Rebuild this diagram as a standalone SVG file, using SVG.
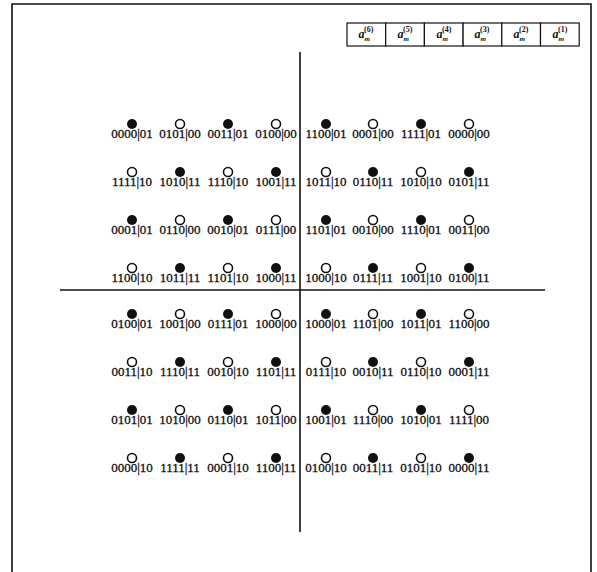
<svg xmlns="http://www.w3.org/2000/svg" width="597" height="572" viewBox="0 0 597 572">
<style>
.lbl{font-family:"Liberation Serif","DejaVu Serif",serif;font-size:13px;fill:#111;stroke:#111;stroke-width:0.3;text-anchor:middle}
.f{fill:#111}
.o{fill:#fff;stroke:#111;stroke-width:1.6}
.ax{stroke:#111;stroke-width:1.6;fill:none}
.box{fill:#fff;stroke:#111;stroke-width:1.2}
.hdr{font-family:"Liberation Serif","DejaVu Serif",serif;font-size:12px;fill:#111;text-anchor:middle;font-weight:bold}
.a{font-style:italic}
.sb{font-size:7px;font-style:italic}
.sp{font-size:8px}
</style>
<rect width="597" height="572" fill="#fff"/>
<path class="ax" d="M12,572 V4 H591 V572"/>
<g id="header">
<rect class="box" x="347" y="23" width="38.7" height="23"/>
<rect class="box" x="385.7" y="23" width="38.7" height="23"/>
<rect class="box" x="424.4" y="23" width="38.7" height="23"/>
<rect class="box" x="463.1" y="23" width="38.7" height="23"/>
<rect class="box" x="501.8" y="23" width="38.7" height="23"/>
<rect class="box" x="540.5" y="23" width="38.7" height="23"/>
<text class="hdr" x="366" y="38"><tspan class="a">a</tspan><tspan class="sb" dy="3">m</tspan><tspan class="sp" dx="-6" dy="-9">(6)</tspan></text>
<text class="hdr" x="405" y="38"><tspan class="a">a</tspan><tspan class="sb" dy="3">m</tspan><tspan class="sp" dx="-6" dy="-9">(5)</tspan></text>
<text class="hdr" x="444" y="38"><tspan class="a">a</tspan><tspan class="sb" dy="3">m</tspan><tspan class="sp" dx="-6" dy="-9">(4)</tspan></text>
<text class="hdr" x="482" y="38"><tspan class="a">a</tspan><tspan class="sb" dy="3">m</tspan><tspan class="sp" dx="-6" dy="-9">(3)</tspan></text>
<text class="hdr" x="521" y="38"><tspan class="a">a</tspan><tspan class="sb" dy="3">m</tspan><tspan class="sp" dx="-6" dy="-9">(2)</tspan></text>
<text class="hdr" x="560" y="38"><tspan class="a">a</tspan><tspan class="sb" dy="3">m</tspan><tspan class="sp" dx="-6" dy="-9">(1)</tspan></text>
</g>
<g id="axes">
<line class="ax" x1="300" y1="52" x2="300" y2="532"/>
<line class="ax" x1="60" y1="290" x2="545" y2="290"/>
</g>
<g id="r1">
<g id="p1_1"><circle class="f" cx="132" cy="124" r="5"/><text class="lbl" x="132" y="138">0000|01</text></g>
<g id="p1_2"><circle class="o" cx="180" cy="124" r="4.5"/><text class="lbl" x="180" y="138">0101|00</text></g>
<g id="p1_3"><circle class="f" cx="228" cy="124" r="5"/><text class="lbl" x="228" y="138">0011|01</text></g>
<g id="p1_4"><circle class="o" cx="276" cy="124" r="4.5"/><text class="lbl" x="276" y="138">0100|00</text></g>
<g id="p1_5"><circle class="f" cx="326" cy="124" r="5"/><text class="lbl" x="326" y="138">1100|01</text></g>
<g id="p1_6"><circle class="o" cx="373" cy="124" r="4.5"/><text class="lbl" x="373" y="138">0001|00</text></g>
<g id="p1_7"><circle class="f" cx="421" cy="124" r="5"/><text class="lbl" x="421" y="138">1111|01</text></g>
<g id="p1_8"><circle class="o" cx="469" cy="124" r="4.5"/><text class="lbl" x="469" y="138">0000|00</text></g>
</g>
<g id="r2">
<g id="p2_1"><circle class="o" cx="132" cy="172" r="4.5"/><text class="lbl" x="132" y="186">1111|10</text></g>
<g id="p2_2"><circle class="f" cx="180" cy="172" r="5"/><text class="lbl" x="180" y="186">1010|11</text></g>
<g id="p2_3"><circle class="o" cx="228" cy="172" r="4.5"/><text class="lbl" x="228" y="186">1110|10</text></g>
<g id="p2_4"><circle class="f" cx="276" cy="172" r="5"/><text class="lbl" x="276" y="186">1001|11</text></g>
<g id="p2_5"><circle class="o" cx="326" cy="172" r="4.5"/><text class="lbl" x="326" y="186">1011|10</text></g>
<g id="p2_6"><circle class="f" cx="373" cy="172" r="5"/><text class="lbl" x="373" y="186">0110|11</text></g>
<g id="p2_7"><circle class="o" cx="421" cy="172" r="4.5"/><text class="lbl" x="421" y="186">1010|10</text></g>
<g id="p2_8"><circle class="f" cx="469" cy="172" r="5"/><text class="lbl" x="469" y="186">0101|11</text></g>
</g>
<g id="r3">
<g id="p3_1"><circle class="f" cx="132" cy="220" r="5"/><text class="lbl" x="132" y="234">0001|01</text></g>
<g id="p3_2"><circle class="o" cx="180" cy="220" r="4.5"/><text class="lbl" x="180" y="234">0110|00</text></g>
<g id="p3_3"><circle class="f" cx="228" cy="220" r="5"/><text class="lbl" x="228" y="234">0010|01</text></g>
<g id="p3_4"><circle class="o" cx="276" cy="220" r="4.5"/><text class="lbl" x="276" y="234">0111|00</text></g>
<g id="p3_5"><circle class="f" cx="326" cy="220" r="5"/><text class="lbl" x="326" y="234">1101|01</text></g>
<g id="p3_6"><circle class="o" cx="373" cy="220" r="4.5"/><text class="lbl" x="373" y="234">0010|00</text></g>
<g id="p3_7"><circle class="f" cx="421" cy="220" r="5"/><text class="lbl" x="421" y="234">1110|01</text></g>
<g id="p3_8"><circle class="o" cx="469" cy="220" r="4.5"/><text class="lbl" x="469" y="234">0011|00</text></g>
</g>
<g id="r4">
<g id="p4_1"><circle class="o" cx="132" cy="268" r="4.5"/><text class="lbl" x="132" y="282">1100|10</text></g>
<g id="p4_2"><circle class="f" cx="180" cy="268" r="5"/><text class="lbl" x="180" y="282">1011|11</text></g>
<g id="p4_3"><circle class="o" cx="228" cy="268" r="4.5"/><text class="lbl" x="228" y="282">1101|10</text></g>
<g id="p4_4"><circle class="f" cx="276" cy="268" r="5"/><text class="lbl" x="276" y="282">1000|11</text></g>
<g id="p4_5"><circle class="o" cx="326" cy="268" r="4.5"/><text class="lbl" x="326" y="282">1000|10</text></g>
<g id="p4_6"><circle class="f" cx="373" cy="268" r="5"/><text class="lbl" x="373" y="282">0111|11</text></g>
<g id="p4_7"><circle class="o" cx="421" cy="268" r="4.5"/><text class="lbl" x="421" y="282">1001|10</text></g>
<g id="p4_8"><circle class="f" cx="469" cy="268" r="5"/><text class="lbl" x="469" y="282">0100|11</text></g>
</g>
<g id="r5">
<g id="p5_1"><circle class="f" cx="132" cy="314" r="5"/><text class="lbl" x="132" y="328">0100|01</text></g>
<g id="p5_2"><circle class="o" cx="180" cy="314" r="4.5"/><text class="lbl" x="180" y="328">1001|00</text></g>
<g id="p5_3"><circle class="f" cx="228" cy="314" r="5"/><text class="lbl" x="228" y="328">0111|01</text></g>
<g id="p5_4"><circle class="o" cx="276" cy="314" r="4.5"/><text class="lbl" x="276" y="328">1000|00</text></g>
<g id="p5_5"><circle class="f" cx="326" cy="314" r="5"/><text class="lbl" x="326" y="328">1000|01</text></g>
<g id="p5_6"><circle class="o" cx="373" cy="314" r="4.5"/><text class="lbl" x="373" y="328">1101|00</text></g>
<g id="p5_7"><circle class="f" cx="421" cy="314" r="5"/><text class="lbl" x="421" y="328">1011|01</text></g>
<g id="p5_8"><circle class="o" cx="469" cy="314" r="4.5"/><text class="lbl" x="469" y="328">1100|00</text></g>
</g>
<g id="r6">
<g id="p6_1"><circle class="o" cx="132" cy="362" r="4.5"/><text class="lbl" x="132" y="376">0011|10</text></g>
<g id="p6_2"><circle class="f" cx="180" cy="362" r="5"/><text class="lbl" x="180" y="376">1110|11</text></g>
<g id="p6_3"><circle class="o" cx="228" cy="362" r="4.5"/><text class="lbl" x="228" y="376">0010|10</text></g>
<g id="p6_4"><circle class="f" cx="276" cy="362" r="5"/><text class="lbl" x="276" y="376">1101|11</text></g>
<g id="p6_5"><circle class="o" cx="326" cy="362" r="4.5"/><text class="lbl" x="326" y="376">0111|10</text></g>
<g id="p6_6"><circle class="f" cx="373" cy="362" r="5"/><text class="lbl" x="373" y="376">0010|11</text></g>
<g id="p6_7"><circle class="o" cx="421" cy="362" r="4.5"/><text class="lbl" x="421" y="376">0110|10</text></g>
<g id="p6_8"><circle class="f" cx="469" cy="362" r="5"/><text class="lbl" x="469" y="376">0001|11</text></g>
</g>
<g id="r7">
<g id="p7_1"><circle class="f" cx="132" cy="410" r="5"/><text class="lbl" x="132" y="424">0101|01</text></g>
<g id="p7_2"><circle class="o" cx="180" cy="410" r="4.5"/><text class="lbl" x="180" y="424">1010|00</text></g>
<g id="p7_3"><circle class="f" cx="228" cy="410" r="5"/><text class="lbl" x="228" y="424">0110|01</text></g>
<g id="p7_4"><circle class="o" cx="276" cy="410" r="4.5"/><text class="lbl" x="276" y="424">1011|00</text></g>
<g id="p7_5"><circle class="f" cx="326" cy="410" r="5"/><text class="lbl" x="326" y="424">1001|01</text></g>
<g id="p7_6"><circle class="o" cx="373" cy="410" r="4.5"/><text class="lbl" x="373" y="424">1110|00</text></g>
<g id="p7_7"><circle class="f" cx="421" cy="410" r="5"/><text class="lbl" x="421" y="424">1010|01</text></g>
<g id="p7_8"><circle class="o" cx="469" cy="410" r="4.5"/><text class="lbl" x="469" y="424">1111|00</text></g>
</g>
<g id="r8">
<g id="p8_1"><circle class="o" cx="132" cy="458" r="4.5"/><text class="lbl" x="132" y="472">0000|10</text></g>
<g id="p8_2"><circle class="f" cx="180" cy="458" r="5"/><text class="lbl" x="180" y="472">1111|11</text></g>
<g id="p8_3"><circle class="o" cx="228" cy="458" r="4.5"/><text class="lbl" x="228" y="472">0001|10</text></g>
<g id="p8_4"><circle class="f" cx="276" cy="458" r="5"/><text class="lbl" x="276" y="472">1100|11</text></g>
<g id="p8_5"><circle class="o" cx="326" cy="458" r="4.5"/><text class="lbl" x="326" y="472">0100|10</text></g>
<g id="p8_6"><circle class="f" cx="373" cy="458" r="5"/><text class="lbl" x="373" y="472">0011|11</text></g>
<g id="p8_7"><circle class="o" cx="421" cy="458" r="4.5"/><text class="lbl" x="421" y="472">0101|10</text></g>
<g id="p8_8"><circle class="f" cx="469" cy="458" r="5"/><text class="lbl" x="469" y="472">0000|11</text></g>
</g>
</svg>
